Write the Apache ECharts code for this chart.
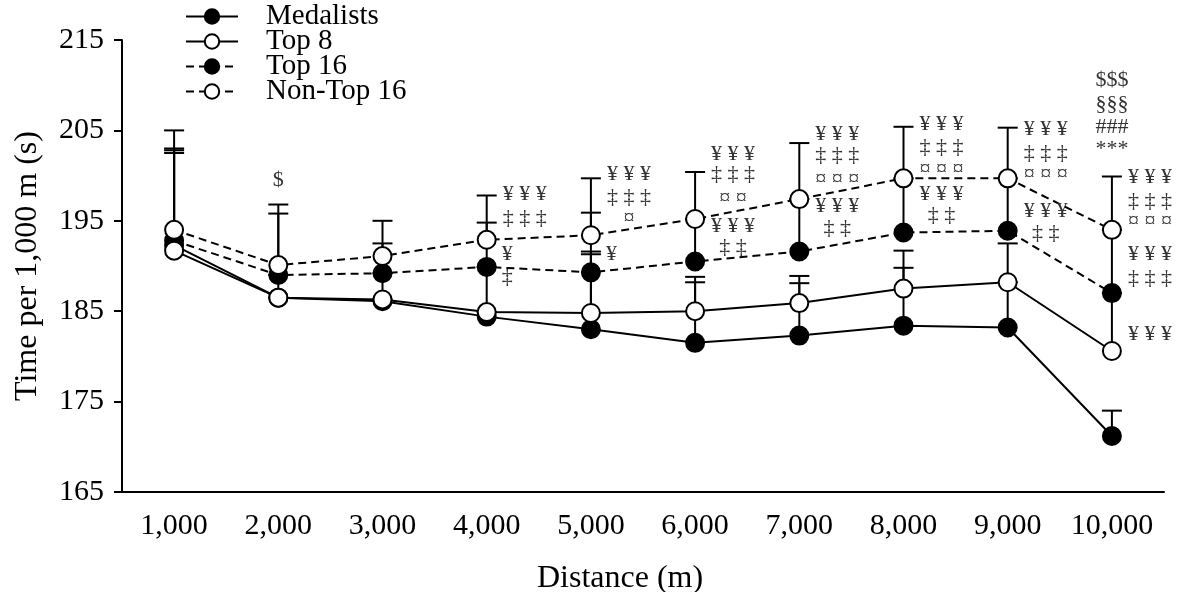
<!DOCTYPE html>
<html>
<head>
<meta charset="utf-8">
<script src="https://cdn.jsdelivr.net/npm/echarts@6/dist/echarts.min.js"></script>
<style>
html,body{margin:0;padding:0;background:#fff;}
#chart{width:1183px;height:592px;}
</style>
</head>
<body>
<div id="chart"></div>
<script>
// ---------- data ----------
const distances = ['1,000','2,000','3,000','4,000','5,000','6,000','7,000','8,000','9,000','10,000'];
const yTicks = [165, 175, 185, 195, 205, 215];

const medalists = [192.3, 186.5, 186.1, 184.4, 183.0, 181.5, 182.3, 183.4, 183.2, 171.2];
const top8      = [191.7, 186.5, 186.3, 184.9, 184.8, 185.0, 185.9, 187.5, 188.2, 180.6];
const top16     = [192.8, 189.0, 189.2, 189.9, 189.3, 190.5, 191.6, 193.7, 193.9, 187.0];
const nonTop16  = [194.0, 190.1, 191.1, 192.9, 193.4, 195.2, 197.4, 199.7, 199.7, 194.0];

// upper end of the SD error bars
const medalistsSD = [202.5, 186.5, 186.3, 184.9, 191.3, 188.2, 188.1, 189.8, 188.2, 174.0];
const top8SD      = [202.8, 189.0, 189.2, 189.9, 191.6, 188.8, 188.9, 191.7, 192.5, 187.0];
const top16SD     = [203.0, 195.8, 192.5, 194.8, 195.9, 195.2, 197.4, 199.7, 199.7, 194.0];
const nonTop16SD  = [205.0, 196.8, 195.0, 197.8, 199.7, 200.4, 203.6, 205.4, 205.3, 199.9];

// significance annotations: [category index, value, text, anchor]
const annotations = [
  [1, 199.5, '$', 'm'],
  [3, 197.9, '¥ ¥ ¥', 'c'], [3, 195.3, '‡ ‡ ‡', 'c'],
  [3, 191.3, '¥', 'l'], [3, 188.8, '‡', 'l'],
  [4, 200.2, '¥ ¥ ¥', 'c'], [4, 197.6, '‡ ‡ ‡', 'c'], [4, 195.3, '¤', 'c'],
  [4, 191.3, '¥', 'l'],
  [5, 202.4, '¥ ¥ ¥', 'c'], [5, 200.2, '‡ ‡ ‡', 'c'], [5, 197.5, '¤ ¤', 'c'],
  [5, 194.4, '¥ ¥ ¥', 'c'], [5, 192.1, '‡ ‡', 'c'],
  [6, 204.6, '¥ ¥ ¥', 'c'], [6, 202.2, '‡ ‡ ‡', 'c'], [6, 199.6, '¤ ¤ ¤', 'c'],
  [6, 196.6, '¥ ¥ ¥', 'c'], [6, 194.2, '‡ ‡', 'c'],
  [7, 205.7, '¥ ¥ ¥', 'c'], [7, 203.1, '‡ ‡ ‡', 'c'], [7, 200.7, '¤ ¤ ¤', 'c'],
  [7, 197.9, '¥ ¥ ¥', 'c'], [7, 195.6, '‡ ‡', 'c'],
  [8, 205.1, '¥ ¥ ¥', 'c'], [8, 202.5, '‡ ‡ ‡', 'c'], [8, 200.1, '¤ ¤ ¤', 'c'],
  [8, 196.1, '¥ ¥ ¥', 'c'], [8, 193.6, '‡ ‡', 'c'],
  [9, 210.5, '$$$', 'm'], [9, 207.9, '§§§', 'm'], [9, 205.3, '###', 'm'], [9, 202.9, '***', 'm'],
  [9, 199.8, '¥ ¥ ¥', 'c'], [9, 197.2, '‡ ‡ ‡', 'c'], [9, 194.9, '¤ ¤ ¤', 'c'],
  [9, 191.3, '¥ ¥ ¥', 'c'], [9, 188.7, '‡ ‡ ‡', 'c'],
  [9, 182.4, '¥ ¥ ¥', 'c']
];

// ---------- chart ----------
const FONT = '"Liberation Serif", "DejaVu Serif", serif';
const chart = echarts.init(document.getElementById('chart'));

function errSeries(vals, ups) {
  return {
    type: 'custom',
    silent: true,
    z: 1,
    data: vals.map((v, i) => [i, v, ups[i]]),
    renderItem: function (params, api) {
      const p0 = api.coord([api.value(0), api.value(1)]);
      const p1 = api.coord([api.value(0), api.value(2)]);
      const st = { stroke: '#000', lineWidth: 2 };
      return {
        type: 'group',
        children: [
          { type: 'line', shape: { x1: p0[0], y1: p0[1], x2: p1[0], y2: p1[1] }, style: st },
          { type: 'line', shape: { x1: p1[0] - 10, y1: p1[1], x2: p1[0] + 10, y2: p1[1] }, style: st }
        ]
      };
    }
  };
}

function lineSeries(name, vals, filled, dashed) {
  return {
    name: name,
    type: 'line',
    data: vals,
    z: 3,
    symbol: 'circle',
    symbolSize: 18,
    showAllSymbol: true,
    lineStyle: { color: '#000', width: 2, type: dashed ? [8, 5] : 'solid' },
    itemStyle: { color: filled ? '#000' : '#fff', borderColor: '#000', borderWidth: 2 },
    emphasis: { disabled: true },
    animation: false
  };
}

const option = {
  animation: false,
  backgroundColor: '#fff',
  grid: { left: 122, right: 19, top: 40, bottom: 100, containLabel: false, outerBoundsMode: 'none' },
  legend: {
    orient: 'vertical',
    left: 185,
    top: 2,
    padding: 0,
    itemWidth: 52,
    itemHeight: 18,
    itemGap: -4,
    data: ['Medalists', 'Top 8', 'Top 16', 'Non-Top 16'],
    textStyle: { fontFamily: FONT, fontSize: 29, color: '#000', padding: [0, 0, 0, 23] },
    selectedMode: false
  },
  xAxis: {
    type: 'category',
    data: distances,
    boundaryGap: true,
    name: 'Distance (m)',
    nameLocation: 'middle',
    nameGap: 71,
    nameTextStyle: { fontFamily: FONT, fontSize: 32, color: '#000', padding: [0, 46, 0, 0] },
    axisLine: { lineStyle: { color: '#000', width: 2 } },
    axisTick: { alignWithLabel: true, length: 10, lineStyle: { color: '#000', width: 2 } },
    axisLabel: { fontFamily: FONT, fontSize: 30, color: '#000', margin: 19, interval: 0 },
    splitLine: { show: false }
  },
  yAxis: {
    type: 'value',
    min: yTicks[0],
    max: yTicks[yTicks.length - 1],
    interval: 10,
    name: 'Time per 1,000 m (s)',
    nameLocation: 'middle',
    nameGap: 78,
    nameTextStyle: { fontFamily: FONT, fontSize: 32, color: '#000' },
    axisLine: { show: true, lineStyle: { color: '#000', width: 2 } },
    axisTick: { show: true, length: 8, lineStyle: { color: '#000', width: 2 } },
    axisLabel: { fontFamily: FONT, fontSize: 30, color: '#000', margin: 18 },
    splitLine: { show: false }
  },
  series: [
    errSeries(medalists, medalistsSD),
    errSeries(top16, top16SD),
    errSeries(top8, top8SD),
    errSeries(nonTop16, nonTop16SD),
    lineSeries('Medalists', medalists, true, false),
    lineSeries('Top 16', top16, true, true),
    lineSeries('Top 8', top8, false, false),
    lineSeries('Non-Top 16', nonTop16, false, true),
    {
      type: 'custom',
      silent: true,
      z: 4,
      clip: false,
      data: annotations.map(a => [a[0], a[1]]),
      renderItem: function (params, api) {
        const a = annotations[params.dataIndex];
        const p = api.coord([a[0], a[1]]);
        let x = p[0], align = 'center';
        if (a[3] === 'c') { x = p[0] + 38; }
        else if (a[3] === 'l') { x = p[0] + 15; align = 'left'; }
        return {
          type: 'text',
          style: {
            x: x, y: p[1], text: a[2],
            align: align, verticalAlign: 'middle',
            font: '22px ' + FONT,
            fill: '#333'
          }
        };
      }
    }
  ]
};
chart.setOption(option);
</script>
</body>
</html>
